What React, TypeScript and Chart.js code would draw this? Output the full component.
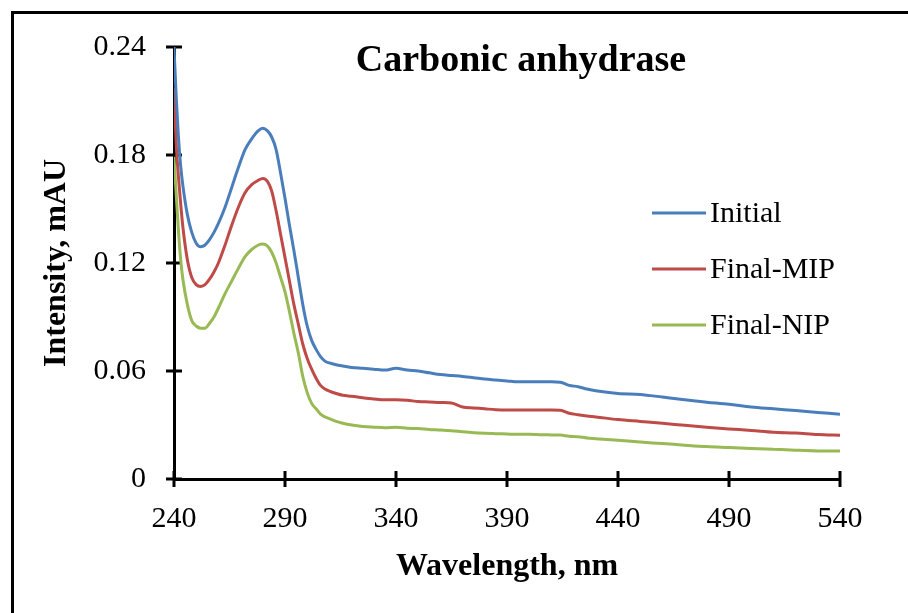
import React, { useEffect, useRef } from "react";
import { Chart, registerables } from "chart.js";

Chart.register(...registerables);

const wavelengths = [240, 241, 242, 243, 244, 246, 248, 250, 252, 254, 256, 258, 260, 263, 266, 269, 272, 275, 278, 280, 282, 284, 286, 288, 290, 292, 294, 296, 298, 300, 302, 304, 306, 308, 310, 313, 316, 320, 325, 330, 335, 340, 345, 350, 355, 360, 365, 370, 375, 380, 385, 390, 395, 400, 405, 410, 414, 418, 422, 426, 430, 440, 450, 460, 470, 480, 490, 500, 510, 520, 530, 540];

const initial = [0.240, 0.212, 0.190, 0.174, 0.163, 0.147, 0.137, 0.131, 0.129, 0.130, 0.133, 0.137, 0.142, 0.151, 0.162, 0.173, 0.183, 0.189, 0.1935, 0.1948, 0.1935, 0.190, 0.183, 0.170, 0.156, 0.141, 0.127, 0.112, 0.097, 0.085, 0.077, 0.072, 0.068, 0.0655, 0.0645, 0.0635, 0.0628, 0.062, 0.0615, 0.061, 0.0605, 0.0615, 0.0605, 0.060, 0.059, 0.058, 0.0575, 0.057, 0.0563, 0.0555, 0.055, 0.0545, 0.054, 0.054, 0.054, 0.054, 0.0538, 0.052, 0.0513, 0.050, 0.049, 0.0475, 0.047, 0.0455, 0.044, 0.0427, 0.0415, 0.040, 0.039, 0.038, 0.037, 0.036];

const finalMIP = [0.217, 0.186, 0.168, 0.153, 0.140, 0.122, 0.112, 0.108, 0.107, 0.108, 0.111, 0.115, 0.120, 0.130, 0.141, 0.151, 0.159, 0.1635, 0.166, 0.167, 0.1655, 0.160, 0.149, 0.136, 0.123, 0.110, 0.097, 0.086, 0.075, 0.067, 0.061, 0.056, 0.052, 0.050, 0.0488, 0.0475, 0.0465, 0.046, 0.0452, 0.0445, 0.044, 0.044, 0.0438, 0.043, 0.0428, 0.0425, 0.0422, 0.040, 0.0395, 0.039, 0.0385, 0.0383, 0.0383, 0.0383, 0.0383, 0.0383, 0.0382, 0.0365, 0.0357, 0.035, 0.0345, 0.033, 0.032, 0.031, 0.0298, 0.0287, 0.0278, 0.027, 0.026, 0.0255, 0.0247, 0.0243];

const finalNIP = [0.179, 0.158, 0.138, 0.122, 0.111, 0.097, 0.088, 0.085, 0.0838, 0.0838, 0.0865, 0.090, 0.095, 0.103, 0.110, 0.117, 0.1235, 0.1275, 0.130, 0.1305, 0.1295, 0.126, 0.120, 0.112, 0.104, 0.093, 0.081, 0.070, 0.057, 0.048, 0.042, 0.039, 0.036, 0.0345, 0.0335, 0.032, 0.031, 0.030, 0.0292, 0.0288, 0.0285, 0.0287, 0.0282, 0.028, 0.0275, 0.0272, 0.0268, 0.0262, 0.0257, 0.0254, 0.0252, 0.025, 0.0248, 0.0248, 0.0246, 0.0245, 0.0244, 0.0238, 0.0235, 0.0228, 0.0224, 0.0215, 0.0205, 0.0197, 0.0188, 0.018, 0.0175, 0.017, 0.0165, 0.016, 0.0156, 0.0155];

const seriesLabels = ["Initial", "Final-MIP", "Final-NIP"];
const seriesColors = ["#4a7ebb", "#be4b48", "#98b954"];
const chartTitle = "Carbonic anhydrase";
const xTitle = "Wavelength, nm";
const yTitle = "Intensity, mAU";

const SERIF = "'Liberation Serif', 'Times New Roman', serif";

const crossTicks = {
  id: "crossTicks",
  beforeDatasetsDraw(chart: any) {
    const ctx = chart.ctx;
    const xs = chart.scales.x;
    const ys = chart.scales.y;
    const yBase = ys.getPixelForValue(0);
    const xBase = xs.getPixelForValue(240);
    ctx.save();
    ctx.strokeStyle = "#000";
    ctx.lineWidth = 3;
    xs.ticks.forEach((t: any) => {
      const px = xs.getPixelForValue(t.value);
      ctx.beginPath();
      ctx.moveTo(px, yBase - 8);
      ctx.lineTo(px, yBase + 8);
      ctx.stroke();
    });
    ys.ticks.forEach((t: any) => {
      const py = ys.getPixelForValue(t.value);
      ctx.beginPath();
      ctx.moveTo(xBase - 8, py);
      ctx.lineTo(xBase + 8, py);
      ctx.stroke();
    });
    ctx.restore();
  },
};

const overlay = {
  id: "overlay",
  afterDraw(chart: any) {
    const ctx = chart.ctx;
    const area = chart.chartArea;
    ctx.save();
    ctx.fillStyle = "#000";
    ctx.font = `bold 38px ${SERIF}`;
    ctx.textAlign = "center";
    ctx.textBaseline = "middle";
    ctx.fillText(chartTitle, area.left + 347, area.top + 14);

    ctx.font = `30px ${SERIF}`;
    ctx.textAlign = "left";
    chart.data.datasets.forEach((ds: any, i: number) => {
      const y = area.top + 166 + i * 56;
      const x0 = area.right - 188;
      ctx.strokeStyle = ds.borderColor;
      ctx.lineWidth = 3;
      ctx.beginPath();
      ctx.moveTo(x0, y);
      ctx.lineTo(x0 + 54, y);
      ctx.stroke();
      ctx.fillStyle = "#000";
      ctx.fillText(ds.label, x0 + 58, y + 1);
    });
    ctx.restore();
  },
};

export default function App() {
  const ref = useRef<HTMLCanvasElement | null>(null);

  useEffect(() => {
    if (!ref.current) return;
    const mk = (vals: number[]) => wavelengths.map((w, i) => ({ x: w, y: vals[i] }));
    const all = [initial, finalMIP, finalNIP];
    const chart = new Chart(ref.current, {
      type: "line",
      data: {
        datasets: all.map((vals, i) => ({
          label: seriesLabels[i],
          data: mk(vals),
          borderColor: seriesColors[i],
          backgroundColor: seriesColors[i],
          borderWidth: 3,
          pointRadius: 0,
          cubicInterpolationMode: "monotone" as const,
          fill: false,
        })),
      },
      options: {
        animation: false,
        responsive: false,
        maintainAspectRatio: false,
        layout: { padding: { left: 0, top: 47, right: 68, bottom: 0 } },
        plugins: {
          legend: { display: false },
          title: { display: false },
          tooltip: { enabled: false },
        },
        scales: {
          x: {
            type: "linear",
            min: 240,
            max: 540,
            afterFit: (s: any) => {
              s.height = 134;
            },
            ticks: {
              stepSize: 50,
              color: "#000",
              font: { family: SERIF, size: 30 },
              padding: 22,
              maxRotation: 0,
            },
            grid: { display: true, drawOnChartArea: false, drawTicks: false },
            border: { display: true, color: "#000", width: 3 },
            title: {
              display: true,
              text: xTitle,
              color: "#000",
              font: { family: SERIF, size: 32, weight: "bold" },
              padding: { top: 0, bottom: 27 },
            },
          },
          y: {
            type: "linear",
            min: 0,
            max: 0.24,
            afterFit: (s: any) => {
              s.width = 174;
            },
            ticks: {
              stepSize: 0.06,
              color: "#000",
              font: { family: SERIF, size: 30 },
              padding: 28,
              callback: (v: any) => (Number(v) === 0 ? "0" : Number(v).toFixed(2)),
            },
            grid: { display: true, drawOnChartArea: false, drawTicks: false },
            border: { display: true, color: "#000", width: 3 },
            title: {
              display: true,
              text: yTitle,
              color: "#000",
              font: { family: SERIF, size: 32, weight: "bold" },
              padding: { top: 38, bottom: 0 },
            },
          },
        },
      },
      plugins: [crossTicks, overlay],
    });
    return () => chart.destroy();
  }, []);

  return (
    <div style={{ position: "fixed", left: 0, top: 0, width: 908, height: 613, background: "#fff", overflow: "hidden" }}>
      <div
        style={{
          position: "absolute",
          left: 11,
          top: 11,
          width: 1000,
          height: 1000,
          border: "3px solid #000",
          boxSizing: "border-box",
        }}
      />
      <canvas
        ref={ref}
        width={908}
        height={613}
        style={{ position: "absolute", left: 0, top: 0, width: 908, height: 613 }}
      />
    </div>
  );
}
